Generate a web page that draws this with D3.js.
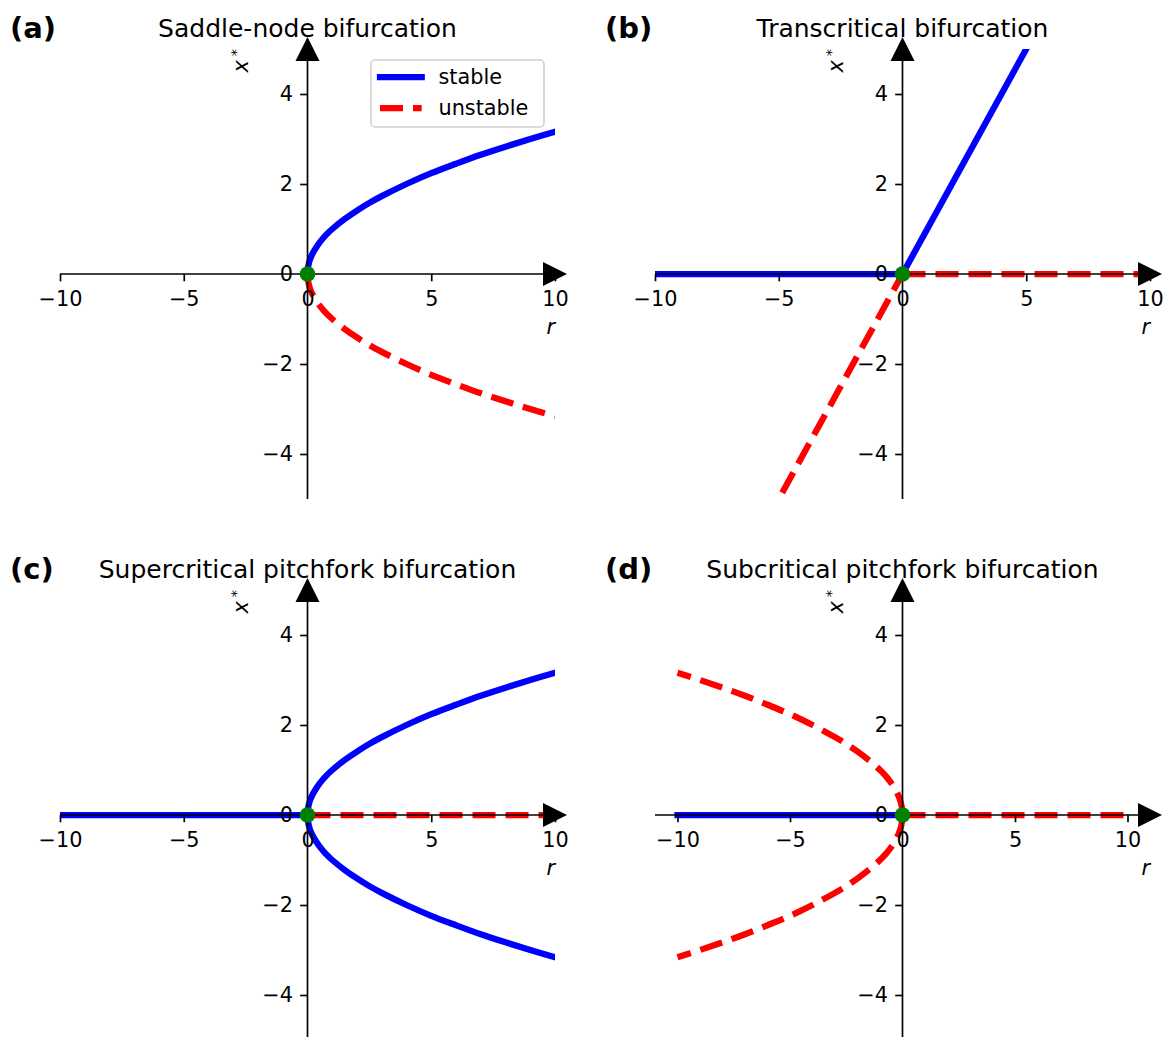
<!DOCTYPE html>
<html lang="en">
<head>
    <meta charset="UTF-8">
    <title>Bifurcation diagrams</title>
    <script src="https://cdn.jsdelivr.net/npm/d3@7"></script>
    <style>
        body { margin: 0; background: #fff; }
        svg { display: block; }
        text { font-family: "DejaVu Sans", sans-serif; }
    </style>
</head>
<body>
<script>
    // values
    var titles = ["Saddle-node bifurcation", "Transcritical bifurcation",
                  "Supercritical pitchfork bifurcation", "Subcritical pitchfork bifurcation"];
    var letters = ["(a)", "(b)", "(c)", "(d)"];
    var xDomains = [[-10, 10], [-10, 10], [-10, 10], [-11, 11]];
    var yDomain = [-5, 5];
    var xTicks = [-10, -5, 0, 5, 10];
    var yTicks = [-4, -2, 0, 2, 4];

    // branch x* = +-sqrt(|r|), sampled from the plot
    var rootR = [0, 0.01, 0.04, 0.1, 0.2, 0.35, 0.5, 0.75, 1, 1.5, 2, 2.5, 3, 4, 5, 6, 7, 8, 9, 10];
    var rootX = [0, 0.1, 0.2, 0.32, 0.45, 0.59, 0.71, 0.87, 1, 1.22, 1.41, 1.58, 1.73, 2, 2.24, 2.45, 2.65, 2.83, 3, 3.16];
    // straight branches
    var negR = [-10, 0], posR = [0, 10];
    var zeroX = [0, 0], negX = [-10, 0], posX = [0, 10];

    // sr / sx mirror a branch in r or x
    var series = [
        [{r: rootR, x: rootX, sr: 1, sx: 1, kind: "stable"},
         {r: rootR, x: rootX, sr: 1, sx: -1, kind: "unstable"}],
        [{r: negR, x: zeroX, sr: 1, sx: 1, kind: "stable"},
         {r: posR, x: posX, sr: 1, sx: 1, kind: "stable"},
         {r: negR, x: negX, sr: 1, sx: 1, kind: "unstable"},
         {r: posR, x: zeroX, sr: 1, sx: 1, kind: "unstable"}],
        [{r: negR, x: zeroX, sr: 1, sx: 1, kind: "stable"},
         {r: rootR, x: rootX, sr: 1, sx: 1, kind: "stable"},
         {r: rootR, x: rootX, sr: 1, sx: -1, kind: "stable"},
         {r: posR, x: zeroX, sr: 1, sx: 1, kind: "unstable"}],
        [{r: negR, x: zeroX, sr: 1, sx: 1, kind: "stable"},
         {r: posR, x: zeroX, sr: 1, sx: 1, kind: "unstable"},
         {r: rootR, x: rootX, sr: -1, sx: 1, kind: "unstable"},
         {r: rootR, x: rootX, sr: -1, sx: -1, kind: "unstable"}]
    ];
    var legendItems = ["stable", "unstable"];

    var styles = {
        stable: {color: "#0000ff", dash: null, cap: "square"},
        unstable: {color: "#ff0000", dash: "23,10", cap: "butt"}
    };

    var W = 1164, H = 1037;
    var boxW = 495, boxH = 450;
    var origins = [[60, 49], [655, 49], [60, 590], [655, 590]];
    var fs = 20.8, lw = 6.25, axw = 1.67;

    var svg = d3.select("body").append("svg")
        .attr("width", W)
        .attr("height", H);

    series.forEach(function(lines, i) {
        var left = origins[i][0], top = origins[i][1];
        var x = d3.scaleLinear().domain(xDomains[i]).range([left, left + boxW]);
        var y = d3.scaleLinear().domain(yDomain).range([top + boxH, top]);
        var x0 = x(0), y0 = y(0);
        var g = svg.append("g");

        g.append("clipPath").attr("id", "clip" + i)
            .append("rect")
            .attr("x", left).attr("y", top)
            .attr("width", boxW).attr("height", boxH);

        // curves
        var curves = g.append("g").attr("clip-path", "url(#clip" + i + ")");
        lines.forEach(function(s) {
            var pts = s.r.map(function(r, k) { return [s.sr * r, s.sx * s.x[k]]; });
            var line = d3.line()
                .x(function(d) { return x(d[0]); })
                .y(function(d) { return y(d[1]); })
                .curve(pts.length > 2 ? d3.curveCatmullRom : d3.curveLinear);
            var st = styles[s.kind];
            curves.append("path")
                .attr("d", line(pts))
                .attr("fill", "none")
                .attr("stroke", st.color)
                .attr("stroke-width", lw)
                .attr("stroke-linecap", st.cap)
                .attr("stroke-linejoin", "round")
                .attr("stroke-dasharray", st.dash);
        });

        // ticks through the origin
        var xAxis = d3.axisBottom(x).tickValues(xTicks).tickSize(7.3).tickPadding(9.5);
        var yAxis = d3.axisLeft(y).tickValues(yTicks).tickSize(7.3).tickPadding(7.3);
        [g.append("g").attr("transform", "translate(0," + y0 + ")").call(xAxis),
         g.append("g").attr("transform", "translate(" + x0 + ",0)").call(yAxis)]
            .forEach(function(ax) {
                ax.attr("font-family", null).attr("font-size", null);
                ax.select(".domain").remove();
                ax.selectAll(".tick line").attr("stroke", "#000").attr("stroke-width", axw);
                ax.selectAll(".tick text").attr("fill", "#000").style("font-size", fs + "px");
            });

        // spines
        g.append("line")
            .attr("x1", x.range()[0]).attr("x2", x.range()[1])
            .attr("y1", y0).attr("y2", y0)
            .attr("stroke", "#000").attr("stroke-width", axw);
        g.append("line")
            .attr("x1", x0).attr("x2", x0)
            .attr("y1", y.range()[1]).attr("y2", y.range()[0])
            .attr("stroke", "#000").attr("stroke-width", axw);

        // arrow heads
        g.append("path")
            .attr("d", "M-12,-12L12,0L-12,12Z")
            .attr("transform", "translate(" + x.range()[1] + "," + y0 + ")")
            .attr("fill", "#000");
        g.append("path")
            .attr("d", "M-12,12L0,-12L12,12Z")
            .attr("transform", "translate(" + x0 + "," + y.range()[1] + ")")
            .attr("fill", "#000");

        // bifurcation point
        g.append("circle")
            .attr("cx", x0).attr("cy", y0).attr("r", 7.8)
            .attr("fill", "#008000");

        // texts
        g.append("text")
            .attr("x", left + boxW / 2).attr("y", top - 12.5)
            .attr("text-anchor", "middle")
            .style("font-size", "25px")
            .text(titles[i]);
        g.append("text")
            .attr("x", left - 50).attr("y", top - 11)
            .style("font-size", "29px")
            .style("font-weight", "bold")
            .text(letters[i]);
        g.append("text")
            .attr("x", x.range()[1]).attr("y", y0 + 60)
            .attr("text-anchor", "end")
            .style("font-size", fs + "px")
            .style("font-style", "italic")
            .text("r");
        var yl = g.append("text")
            .attr("transform", "translate(" + (x0 - 59.5) + "," + top + ") rotate(-90)")
            .attr("text-anchor", "end")
            .style("font-size", fs + "px");
        yl.append("tspan").style("font-style", "italic").text("x");
        yl.append("tspan").attr("dx", 4).attr("dy", -7).style("font-size", "14.6px").text("*");

        // legend only in the first panel
        if (i === 0) {
            var lg = g.append("g");
            lg.append("rect")
                .attr("x", 371).attr("y", 60)
                .attr("width", 173).attr("height", 67)
                .attr("rx", 4)
                .attr("fill", "#fff").attr("fill-opacity", 0.8)
                .attr("stroke", "#d0d0d0").attr("stroke-width", 1.5);
            legendItems.forEach(function(k, j) {
                var st = styles[k];
                var cy = 77 + j * 31;
                lg.append("line")
                    .attr("x1", 380).attr("x2", 421.7)
                    .attr("y1", cy).attr("y2", cy)
                    .attr("stroke", st.color)
                    .attr("stroke-width", lw)
                    .attr("stroke-linecap", st.cap)
                    .attr("stroke-dasharray", st.dash);
                lg.append("text")
                    .attr("x", 438.5).attr("y", cy + 6.5)
                    .style("font-size", fs + "px")
                    .text(k);
            });
        }
    });
</script>
</body>
</html>
